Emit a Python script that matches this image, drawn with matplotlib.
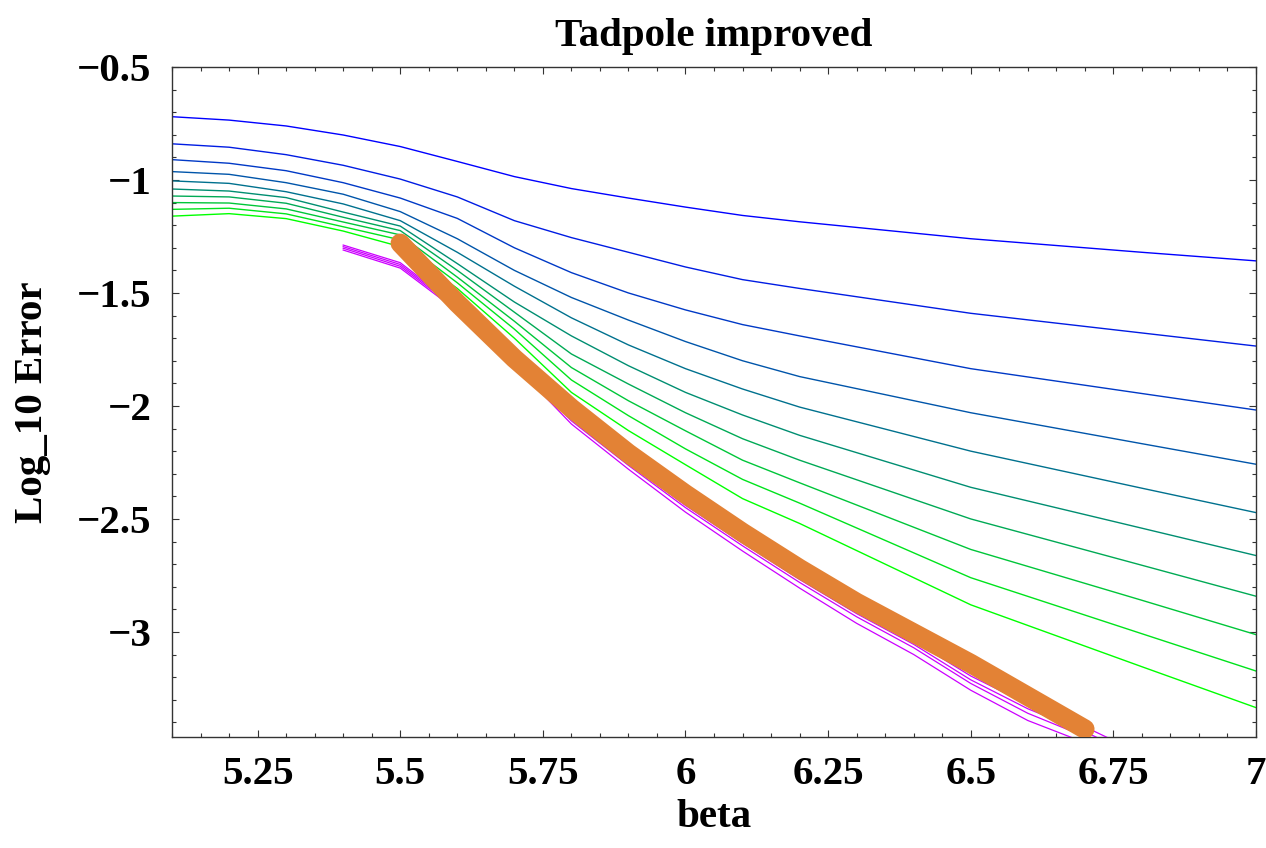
import numpy as np
import matplotlib.pyplot as plt
from matplotlib.ticker import FixedLocator, MultipleLocator

plt.rcParams['font.family'] = ['Liberation Serif', 'DejaVu Serif']
plt.rcParams['font.weight'] = 'bold'

# beta grid of the error curves
beta = [5.1, 5.2, 5.3, 5.4, 5.5, 5.6, 5.7, 5.8, 5.9, 6.0, 6.1, 6.2, 6.5, 6.8, 7.0]

# log10 error, one curve per order (blue -> green)
err_1 = [-0.720, -0.735, -0.761, -0.801, -0.852, -0.918, -0.985, -1.038, -1.080, -1.120, -1.157, -1.185, -1.260, -1.320, -1.358]
err_2 = [-0.840, -0.855, -0.888, -0.935, -0.996, -1.075, -1.180, -1.255, -1.320, -1.385, -1.441, -1.480, -1.590, -1.677, -1.735]
err_3 = [-0.910, -0.926, -0.959, -1.012, -1.080, -1.170, -1.300, -1.410, -1.500, -1.575, -1.640, -1.690, -1.835, -1.945, -2.018]
err_4 = [-0.963, -0.975, -1.012, -1.063, -1.140, -1.260, -1.400, -1.520, -1.620, -1.715, -1.800, -1.870, -2.030, -2.167, -2.258]
err_5 = [-1.004, -1.015, -1.052, -1.106, -1.180, -1.320, -1.470, -1.610, -1.730, -1.835, -1.925, -2.005, -2.200, -2.364, -2.472]
err_6 = [-1.040, -1.049, -1.078, -1.142, -1.204, -1.370, -1.540, -1.690, -1.822, -1.940, -2.040, -2.130, -2.360, -2.541, -2.662]
err_7 = [-1.071, -1.075, -1.103, -1.165, -1.224, -1.400, -1.585, -1.770, -1.903, -2.030, -2.145, -2.240, -2.500, -2.705, -2.842]
err_8 = [-1.100, -1.102, -1.128, -1.186, -1.243, -1.430, -1.625, -1.830, -1.977, -2.110, -2.240, -2.340, -2.635, -2.860, -3.012]
err_9 = [-1.130, -1.125, -1.150, -1.207, -1.265, -1.455, -1.660, -1.885, -2.043, -2.190, -2.325, -2.430, -2.760, -3.008, -3.173]
err_10 = [-1.160, -1.149, -1.171, -1.226, -1.295, -1.480, -1.700, -1.940, -2.109, -2.260, -2.410, -2.520, -2.880, -3.154, -3.335]
curves = [err_1, err_2, err_3, err_4, err_5, err_6, err_7, err_8, err_9, err_10]

# improved runs (magenta)
beta_imp = [5.4, 5.5, 5.6, 5.7, 5.8, 5.9, 6.0, 6.1, 6.2, 6.3, 6.4, 6.5, 6.6, 6.7, 6.8]
imp_1 = [-1.288, -1.366, -1.560, -1.795, -2.050, -2.245, -2.430, -2.595, -2.755, -2.905, -3.040, -3.195, -3.320, -3.420, -3.540]
imp_2 = [-1.295, -1.374, -1.566, -1.802, -2.058, -2.254, -2.440, -2.607, -2.768, -2.919, -3.055, -3.212, -3.340, -3.442, -3.560]
imp_3 = [-1.302, -1.382, -1.572, -1.809, -2.066, -2.263, -2.450, -2.619, -2.781, -2.933, -3.070, -3.228, -3.360, -3.463, -3.580]
imp_4 = [-1.310, -1.390, -1.580, -1.818, -2.080, -2.280, -2.470, -2.642, -2.806, -2.962, -3.100, -3.258, -3.392, -3.490, -3.610]
improved = [imp_1, imp_2, imp_3, imp_4]

# envelope (thick orange)
beta_env = [5.5, 5.6, 5.7, 5.8, 5.9, 6.0, 6.1, 6.2, 6.3, 6.4, 6.5, 6.6, 6.7]
env = [-1.28, -1.545, -1.79, -2.01, -2.21, -2.39, -2.56, -2.72, -2.87, -3.005, -3.14, -3.285, -3.43]

xticks = [5.25, 5.5, 5.75, 6.0, 6.25, 6.5, 6.75, 7.0]
xticklabels = ['5.25', '5.5', '5.75', '6', '6.25', '6.5', '6.75', '7']
yticks = [-0.5, -1.0, -1.5, -2.0, -2.5, -3.0]
yticklabels = ['\u22120.5', '\u22121', '\u22121.5', '\u22122', '\u22122.5', '\u22123']

fig = plt.figure(figsize=(12.66, 8.48), dpi=100)
ax = fig.add_axes([0.1359, 0.1309, 0.8562, 0.7901])

n = len(curves)
for k, yy in enumerate(curves):
    c = (0.0, k / (n - 1), 1.0 - k / (n - 1))
    ax.plot(beta, yy, color=c, lw=1.0, zorder=2)

for yy in improved:
    ax.plot(beta_imp, yy, color='#CC00FF', lw=0.9, zorder=3)

ax.plot(beta_env, env, color='#E38235', lw=14, solid_capstyle='round', zorder=4)

ax.set_xlim(5.1, 7.0)
ax.set_ylim(-3.465, -0.5)

ax.xaxis.set_major_locator(FixedLocator(xticks))
ax.set_xticklabels(xticklabels)
ax.xaxis.set_minor_locator(MultipleLocator(0.05))
ax.yaxis.set_major_locator(FixedLocator(yticks))
ax.set_yticklabels(yticklabels)
ax.yaxis.set_minor_locator(MultipleLocator(0.1))

fs = 29.5
ax.tick_params(which='both', direction='in', top=True, right=True, width=0.8, color='#333333')
ax.tick_params(which='major', length=5, labelsize=fs)
ax.tick_params(axis='x', which='major', pad=14)
ax.tick_params(axis='y', which='major', pad=15)
ax.tick_params(which='minor', length=3)
for s in ax.spines.values():
    s.set_color('#333333')
    s.set_linewidth(1.0)

ax.set_title('Tadpole improved', fontsize=fs, fontweight='bold', pad=15)
ax.set_xlabel('beta', fontsize=fs, fontweight='bold', labelpad=4)
ax.set_ylabel('Log_10 Error', fontsize=fs, fontweight='bold')
ax.yaxis.set_label_coords(-0.112, 0.5)

fig.savefig('out.png', dpi=100)
